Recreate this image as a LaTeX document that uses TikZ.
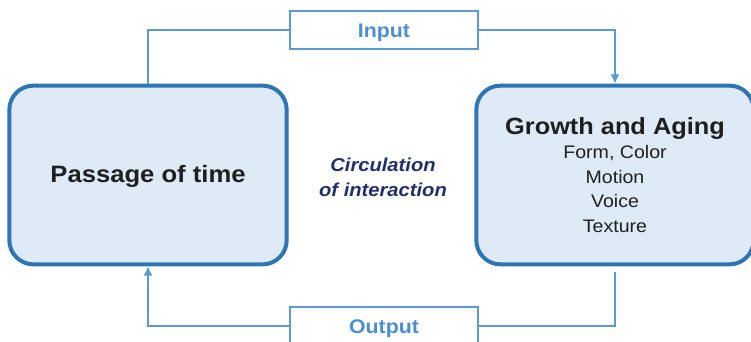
\documentclass[tikz,border=0pt]{standalone}
\usepackage{fontspec}
\setmainfont{Liberation Sans}[FakeStretch=1.08]
\usetikzlibrary{positioning,arrows.meta}
\definecolor{boxedge}{HTML}{2E75B6}
\definecolor{boxfill}{HTML}{DEEBF7}
\definecolor{wire}{HTML}{5B9BD5}
\definecolor{labelblue}{HTML}{4A8FD4}
\definecolor{navy}{HTML}{1F2F6E}
\tikzstyle{stage} = [draw=boxedge, fill=boxfill, line width=3pt, rounded corners=18pt, align=center, text=black!88, minimum width=208pt, minimum height=134pt]
\tikzstyle{port} = [draw=wire, fill=white, line width=1pt, minimum width=141pt, minimum height=28.5pt, text height=10.6pt, text depth=0pt, text=labelblue, font=\fontsize{14.8}{16}\selectfont\bfseries]
\tikzstyle{wireline} = [draw=wire, line width=1.5pt]
\tikzstyle{line} = [wireline, -{Latex[length=7pt,width=7pt]}]

\begin{document}
\begin{tikzpicture}[x=0.75pt, y=-0.75pt, node distance = 2cm, auto]
    \useasboundingbox (0,0) rectangle (751,342);
    % Place nodes
    \node [stage, text height=11pt, text depth=0pt, font=\fontsize{17.8}{20}\selectfont\bfseries] (time) at (148,175) {Passage of time};
    \node [stage, font=\fontsize{13.6}{18.4}\selectfont] (aging) at (615,175)
        {{\fontsize{17.6}{18.4}\selectfont\bfseries Growth and Aging}\\Form, Color\\Motion\\Voice\\Texture};
    \node [port] (input) at (384,30) {Input};
    \node [port] (output) at (384,326) {Output};
    \node [text=navy, align=center, font=\fontsize{14}{18.75}\selectfont\bfseries\itshape] (circ) at (383,177) {Circulation\\of interaction};
    % Draw edges
    \path [wireline] (time.north) |- (input.west);
    \path [line] (input.east) -| (aging.north);
    \path [wireline, shorten <=4pt] (aging.south) |- (output.east);
    \path [line] (output.west) -| (time.south);
\end{tikzpicture}
\end{document}
